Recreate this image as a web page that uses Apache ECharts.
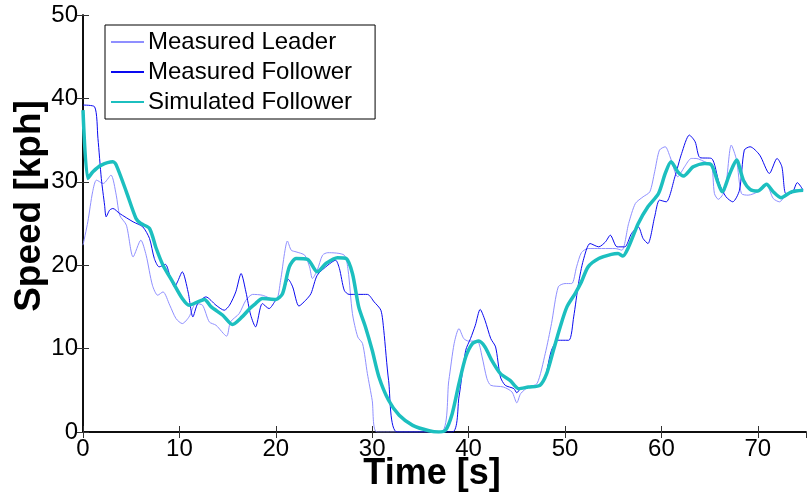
<!DOCTYPE html>
<html>
<head>
<meta charset="utf-8">
<script src="https://cdn.jsdelivr.net/npm/echarts@6/dist/echarts.min.js"></script>
<style>html,body{margin:0;padding:0;background:#fff}#c{width:811px;height:496px}</style>
</head>
<body>
<div id="c"></div>
<script>
const xTicks = [0, 10, 20, 30, 40, 50, 60, 70];
const yTicks = [0, 10, 20, 30, 40, 50];
const seriesNames = ['Measured Leader', 'Measured Follower', 'Simulated Follower'];

const leaderT = [0,0.5,1.0,1.4,2.1,2.9,3.45,3.8,4.5,5.2,6.0,6.55,7.2,7.75,8.3,9.0,9.65,10.3,11.0,11.7,12.4,13.1,13.8,14.9,15.3,16.2,16.9,17.6,18.6,20.0,20.5,20.9,21.2,21.6,22.1,23.0,23.5,23.8,24.3,24.85,25.4,27.1,27.5,27.95,28.5,29.0,29.5,30.0,30.5,37.1,37.95,38.5,39.0,39.5,40.0,40.9,41.4,41.9,42.3,43.6,44.5,45.0,45.4,46.2,47.1,47.95,48.6,49.3,50.0,50.7,51.2,51.7,52.4,55.2,55.9,56.6,57.3,58.1,58.8,59.3,59.8,60.4,60.9,61.7,62.4,63.1,63.6,64.7,65.2,65.5,65.9,66.6,67.25,67.8,68.3,69.0,70.0,70.9,71.6,72.25,72.9,73.8,74.7];
const leaderV = [22.4,25.2,28.8,30.2,29.8,30.8,28.4,26.0,24.8,21.0,23.0,21.2,17.6,16.4,16.8,15.2,13.6,13.0,13.8,15.4,15.2,13.2,12.8,11.5,13.2,14.2,15.8,16.5,16.4,15.8,18.2,21.4,22.9,21.8,21.6,21.2,19.8,18.4,19.4,21.2,21.5,21.2,19.4,14.2,11.4,10.6,7.0,3.8,0,0,6.2,10.6,12.4,11.2,10.9,10.9,9.0,6.4,5.6,5.4,4.8,3.5,4.6,5.4,5.8,9.4,13.0,17.4,17.8,17.8,19.8,21.5,22.0,22.0,21.8,25.0,27.4,28.2,28.8,31.2,33.8,34.2,33.0,30.6,31.8,32.8,32.8,32.3,32.2,28.6,27.9,29.0,34.4,32.6,28.6,28.4,28.8,29.6,28.0,27.6,28.4,29.0,29.0];

const followerT = [0,1.2,1.55,1.9,2.24,2.4,2.76,3.1,3.8,5.2,6.2,6.9,7.4,7.9,8.55,9.0,9.5,9.8,10.3,10.9,11.4,11.9,12.75,13.8,14.65,15.2,15.85,16.4,16.9,17.4,17.9,18.6,19.3,20.0,20.7,21.3,21.75,22.4,23.1,23.65,24.3,25.4,26.2,26.6,27.1,27.6,29.5,30.2,30.9,31.2,31.7,32.6,38.3,39.0,39.7,40.2,40.7,41.2,41.7,42.3,42.8,43.3,43.8,44.7,45.0,45.4,46.6,47.4,47.95,48.6,49.3,50.4,50.9,51.4,51.9,52.6,53.5,54.2,54.7,55.4,56.2,56.9,57.6,58.1,58.6,59.3,59.8,60.5,61.4,62.1,62.9,63.5,64.0,65.2,66.0,66.7,67.4,68.1,68.6,69.2,70.2,71.2,72.0,72.5,72.9,73.5,74.1,74.7];
const followerV = [39.2,39.0,35.2,30.4,27.2,25.8,26.6,26.8,26.2,25.2,24.6,23.2,20.8,19.8,20.1,18.8,17.4,18.0,19.2,16.8,13.8,15.4,16.2,15.2,14.6,15.2,16.8,19.0,16.8,14.0,12.6,15.4,14.8,15.8,16.6,18.3,17.4,15.1,15.8,16.6,18.8,20.0,20.6,19.6,17.0,16.5,16.5,15.6,14.6,12.2,6.2,0,0,4.2,9.8,11.2,12.8,14.7,13.4,11.2,10.2,6.6,5.6,5.2,4.7,5.2,5.4,5.6,6.6,9.8,11.0,11.0,13.8,17.8,20.6,22.6,22.2,22.8,23.6,22.2,22.2,23.8,24.6,23.2,22.6,25.8,27.8,27.6,30.6,33.4,35.6,34.8,32.9,32.8,29.8,28.2,27.6,29.0,33.8,34.2,33.2,31.0,32.8,31.8,28.6,28.6,29.9,29.0];

const simT = [0,0.5,1.03,1.9,3.1,3.45,4.5,5.5,6.0,6.9,7.6,8.3,9.3,10.3,11.0,11.9,12.6,13.3,14.5,15.5,16.5,17.3,17.9,18.6,20.0,20.7,21.4,22.1,23.3,24.3,25.2,26.4,27.3,27.95,28.6,29.3,30.0,30.7,31.7,32.8,34.2,35.9,36.9,37.6,38.3,39.0,39.7,40.4,41.05,41.7,42.4,43.3,44.3,45.2,46.2,47.4,48.1,48.8,49.5,50.2,51.05,51.7,52.4,53.5,54.8,55.5,56.0,56.6,57.6,58.6,59.7,60.4,61.0,61.7,62.3,63.3,64.5,65.2,65.9,66.3,67.1,67.8,68.5,69.2,70.0,70.9,71.6,72.4,73.5,74.7];
const simV = [38.6,30.4,31.2,32.0,32.4,32.0,28.8,25.6,25.0,24.4,22.0,20.0,18.0,16.0,15.2,15.6,15.9,15.0,14.0,12.9,13.8,14.8,15.4,16.0,15.9,16.6,19.8,20.8,20.7,19.2,20.2,20.9,20.8,19.0,15.0,12.6,9.8,6.6,3.8,2.0,0.8,0.15,0,0.2,2.2,5.8,9.0,10.6,10.9,10.2,8.6,7.0,6.2,5.2,5.4,5.6,7.0,9.8,12.6,15.0,16.6,18.0,19.8,20.8,21.3,21.4,21.1,22.2,25.0,27.0,28.6,31.0,32.4,31.2,30.7,31.8,32.2,32.0,29.8,28.8,31.0,32.6,30.2,29.1,28.9,29.7,28.8,28.1,28.8,29.0];

const pair = (t, v) => t.map((x, i) => [x, v[i]]);
const FONT = "'Liberation Sans', Arial, sans-serif";

const chart = echarts.init(document.getElementById('c'), null, {renderer: 'canvas'});
const baseX = {
  type: 'value', min: 0, max: 75, interval: 10,
  axisLine: {show: true, lineStyle: {color: '#000', width: 1.5}},
  axisTick: {show: true, inside: true, length: 6, lineStyle: {color: '#333', width: 1}},
  splitLine: {show: false}
};
const baseY = {
  type: 'value', min: 0, max: 50, interval: 10,
  axisLine: {show: true, lineStyle: {color: '#000', width: 1.5}},
  axisTick: {show: true, inside: true, length: 6, lineStyle: {color: '#333', width: 1}},
  splitLine: {show: false}
};
chart.setOption({
  animation: false,
  backgroundColor: '#fff',
  grid: {left: 83, right: 5, top: 15, bottom: 64, containLabel: false},
  xAxis: [
    Object.assign({}, baseX, {position: 'bottom',
      axisLabel: {show: true, margin: 5, color: '#000', fontSize: 24, fontFamily: FONT, showMaxLabel: false,
        formatter: v => (xTicks.indexOf(v) >= 0 ? String(v) : '')}}),
    Object.assign({}, baseX, {position: 'top', axisLabel: {show: false}})
  ],
  yAxis: [
    Object.assign({}, baseY, {position: 'left',
      axisLabel: {show: true, margin: 5, color: '#000', fontSize: 24, fontFamily: FONT,
        formatter: v => (yTicks.indexOf(v) >= 0 ? String(v) : '')}}),
    Object.assign({}, baseY, {position: 'right', axisLabel: {show: false}})
  ],
  legend: {
    orient: 'vertical', left: 105, top: 25,
    data: seriesNames,
    backgroundColor: '#fff', borderColor: '#000', borderWidth: 1, borderRadius: 0,
    padding: [2, 23, 2, 5], itemGap: 0, itemWidth: 33, itemHeight: 14,
    itemStyle: {opacity: 0},
    textStyle: {color: '#000', fontSize: 24, fontFamily: FONT, lineHeight: 30, padding: [0, 0, 0, -1]}
  },
  graphic: [
    {type: 'text', x: 432, y: 474,
      style: {text: 'Time [s]', fill: '#000', font: 'bold 36px ' + FONT,
        textAlign: 'center', textVerticalAlign: 'middle'}},
    {type: 'text', rotation: Math.PI / 2, x: 30, y: 206,
      style: {text: 'Speed [kph]', fill: '#000', font: 'bold 37px ' + FONT,
        textAlign: 'center', textVerticalAlign: 'middle'}}
  ],
  series: [
    {name: seriesNames[0], type: 'line', data: pair(leaderT, leaderV), symbol: 'none', smooth: 0.25,
      lineStyle: {color: '#8f8fff', width: 1}, itemStyle: {color: '#8f8fff'}, z: 2},
    {name: seriesNames[1], type: 'line', data: pair(followerT, followerV), symbol: 'none', smooth: 0.25,
      lineStyle: {color: '#0a0af0', width: 1}, itemStyle: {color: '#0a0af0'}, z: 3},
    {name: seriesNames[2], type: 'line', data: pair(simT, simV), symbol: 'none', smooth: 0.25,
      lineStyle: {color: '#1cbfbf', width: 3.5}, itemStyle: {color: '#1cbfbf'}, z: 4}
  ]
});
</script>
</body>
</html>
